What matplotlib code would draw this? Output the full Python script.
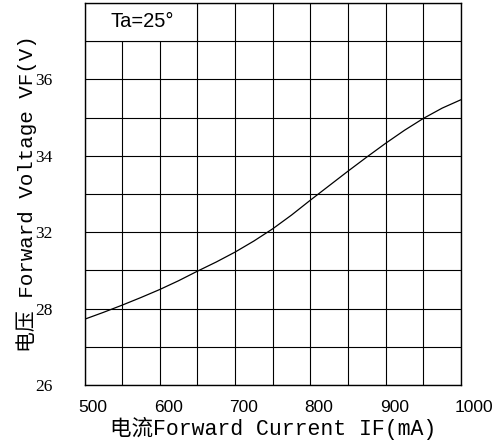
import numpy as np
import matplotlib.pyplot as plt
from matplotlib.patches import Rectangle
from matplotlib.transforms import ScaledTranslation

# forward current (mA) vs forward voltage (V)
current_ma = [500, 525, 550, 575, 600, 625, 650, 675, 700, 725, 750, 775,
              800, 825, 850, 875, 900, 925, 950, 975, 1000]
voltage_v = [29.72, 29.90, 30.09, 30.29, 30.50, 30.73, 30.98, 31.22, 31.48, 31.77, 32.09, 32.45,
             32.84, 33.22, 33.60, 33.97, 34.33, 34.67, 34.98, 35.25, 35.47]

x_ticks = [500, 600, 700, 800, 900, 1000]
y_ticks = [28, 30, 32, 34, 36]
# labels as printed on the original datasheet
y_tick_labels = ['26', '28', '32', '34', '36']

label_font = ['Liberation Mono', 'Noto Sans CJK SC']

fig = plt.figure(figsize=(5, 4.44), dpi=100)
ax = fig.add_axes([0.169, 0.133, 0.753, 0.860])

ax.plot(current_ma, voltage_v, color='black', lw=0.9, zorder=3)

ax.set_xlim(500, 1000)
ax.set_ylim(28, 38)
ax.set_xticks(x_ticks)
ax.set_xticks(np.arange(500, 1001, 50), minor=True)
ax.set_yticks(y_ticks)
ax.set_yticks(np.arange(28, 39, 1), minor=True)
ax.set_yticklabels(y_tick_labels)

ax.set_axisbelow(True)
ax.grid(True, which='both', color='black', lw=0.8)
ax.tick_params(which='both', length=0)
ax.tick_params(axis='x', pad=11)
ax.tick_params(axis='y', pad=23)
for s in ax.spines.values():
    s.set_linewidth(1.0)

for lab in ax.get_xticklabels():
    lab.set_fontfamily('Liberation Sans')
    lab.set_fontsize(12.5)
    lab.set_ha('left')
    lab.set_transform(lab.get_transform() + ScaledTranslation(-6 / 100, 0, fig.dpi_scale_trans))
for lab in ax.get_yticklabels():
    lab.set_fontfamily('Liberation Serif')
    lab.set_fontsize(12.5)

# Ta box in the top-left corner
ax.add_patch(Rectangle((500, 37), 150, 1, facecolor='white', edgecolor='black', lw=0.8, zorder=1))
ax.text(0.068, 0.951, 'Ta=25°', transform=ax.transAxes, fontsize=14.5,
        family='Liberation Sans', va='center', ha='left', zorder=4)

ax.set_xlabel('电流Forward Current IF(mA)', family=label_font, fontsize=15.5, labelpad=1)
ax.set_ylabel('电压 Forward Voltage VF(V)', family=label_font, fontsize=15, labelpad=-1)

fig.savefig('out.png', dpi=100)
